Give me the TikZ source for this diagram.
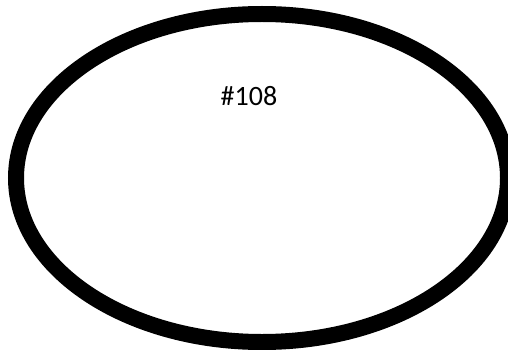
\documentclass[tikz,border=0pt]{standalone}
\usepackage{fontspec}
\setmainfont{Carlito}
\begin{document}
\begin{tikzpicture}[x=1pt,y=-1pt,
  ring/.style={draw=black,line width=16pt},
  lbl/.style={font=\fontsize{28}{32}\selectfont,inner sep=0pt}]
\useasboundingbox[fill=white] (0,0) rectangle (508,350);
\draw[ring] (262,178) ellipse [x radius=246, y radius=164];
\node[lbl] (t) at (249,96) {\#108};
\end{tikzpicture}
\end{document}
